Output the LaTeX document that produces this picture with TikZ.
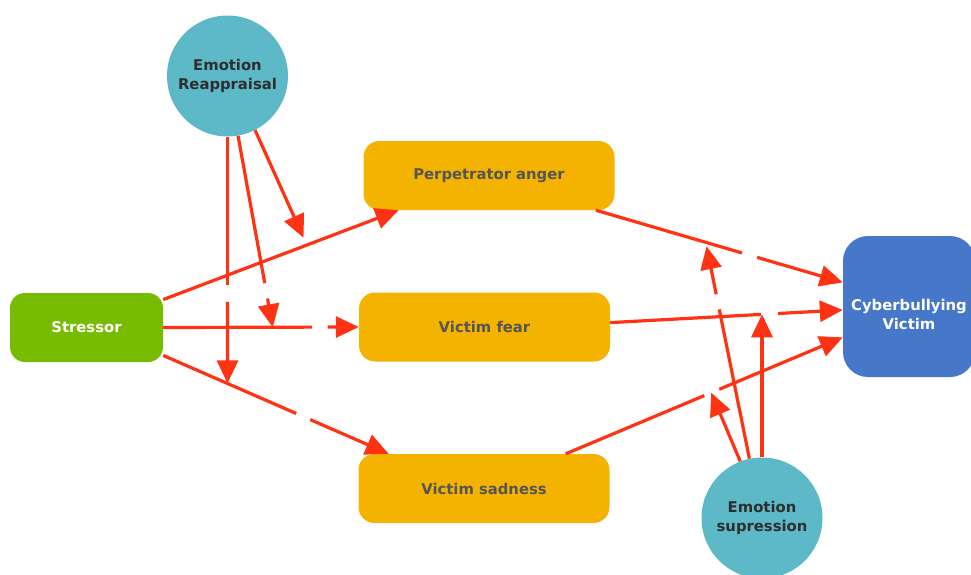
\documentclass[tikz,border=0pt]{standalone}
\usepackage{fontspec}
\setmainfont{DejaVu Sans}
\usetikzlibrary{arrows.meta,calc}

\definecolor{mango}{HTML}{F3B300}
\definecolor{moodtext}{HTML}{555555}
\definecolor{lagoon}{HTML}{5DB8C8}
\definecolor{regtext}{HTML}{2E2E2E}
\definecolor{leaf}{HTML}{77BC00}
\definecolor{ocean}{HTML}{4677C8}
\definecolor{flame}{HTML}{FF3314}

\begin{document}
\begin{tikzpicture}[x=1pt,y=-1pt,
    every node/.style={font=\bfseries\fontsize{14.8}{19.5}\selectfont, align=center},
    mood/.style={rounded corners=16pt, fill=mango, text=moodtext, minimum width=251pt, minimum height=69pt},
    reg/.style={circle, fill=lagoon, text=regtext, minimum size=121pt, inner sep=0pt},
    arr/.style={draw=flame, line width=3.2pt, -{Triangle[length=23pt,width=21pt]}},
    seg/.style={draw=flame, line width=3.2pt}]
  \useasboundingbox (0,0) rectangle (971,574);

  \node[reg] (er) at (227.5,76) {Emotion\\Reappraisal};
  \node[reg] (es) at (762,518) {Emotion\\supression};

  \node[mood] (pa) at (489,175.5) {Perpetrator anger};
  \node[mood] (vf) at (484.5,327) {Victim fear};
  \node[mood] (vs) at (484,488.5) {Victim sadness};

  \node[rounded corners=15pt, fill=leaf, text=white, minimum width=153pt, minimum height=69pt] (st) at (86.5,327.5) {Stressor};
  \node[rounded corners=25pt, fill=ocean, text=white, minimum width=132pt, minimum height=141pt] (cv) at (909,306.5) {\rule{0pt}{27pt}Cyberbullying\\Victim};

  % points where the regulation arrows land
  \coordinate (j1) at ($(st.20)!0.61!(pa.201)$);
  \coordinate (j2) at ($(st.east)!0.56!(vf.west)$);
  \coordinate (j3) at ($(st.-20)!0.284!(vs.160)$);
  \coordinate (j7) at ($(pa.-18)!0.445!(cv.160)$);
  \coordinate (j8) at ($(vf.2)!0.654!(cv.183)$);
  \coordinate (j9) at ($(vs.23)!0.525!(cv.205)$);
  \coordinate (j3v) at (er.south |- j3);
  \coordinate (j8v) at (es.north |- j8);

  % stressor
  \draw[arr] (st.20) -- (pa.201);
  \draw[seg] (st.east) -- ($(st.east)!0.76!(vf.west)$);
  \draw[arr] ($(st.east)!0.84!(vf.west)$) -- (vf.west);
  \draw[seg] (st.-20) -- ($(st.-20)!0.59!(vs.160)$);
  \draw[arr] ($(st.-20)!0.652!(vs.160)$) -- (vs.160);

  % emotion reappraisal
  \draw[seg] (er.south) -- ($(er.south)!0.6!(j3v)$);
  \draw[arr] ($(er.south)!0.67!(j3v)$) -- (j3v);
  \draw[seg] (er.-80) -- ($(er.-80)!0.77!(j2)$);
  \draw[arr] ($(er.-80)!0.85!(j2)$) -- (j2);
  \draw[arr, shorten >=8pt] (er.-63) -- (j1);

  % emotions to victim
  \draw[seg] (pa.-18) -- ($(pa.-18)!0.592!(cv.160)$);
  \draw[arr] ($(pa.-18)!0.653!(cv.160)$) -- (cv.160);
  \draw[seg] (vf.2) -- ($(vf.2)!0.648!(cv.183)$);
  \draw[arr] ($(vf.2)!0.721!(cv.183)$) -- (cv.183);
  \draw[seg] (vs.23) -- ($(vs.23)!0.5!(cv.205)$);
  \draw[arr] ($(vs.23)!0.554!(cv.205)$) -- (cv.205);

  % emotion supression
  \draw[seg] (es.102) -- ($(es.102)!0.69!(j7)$);
  \draw[arr, shorten >=4pt] ($(es.102)!0.76!(j7)$) -- (j7);
  \draw[arr] (es.111) -- (j9);
  \draw[arr] (es.north) -- (j8v);
\end{tikzpicture}
\end{document}
